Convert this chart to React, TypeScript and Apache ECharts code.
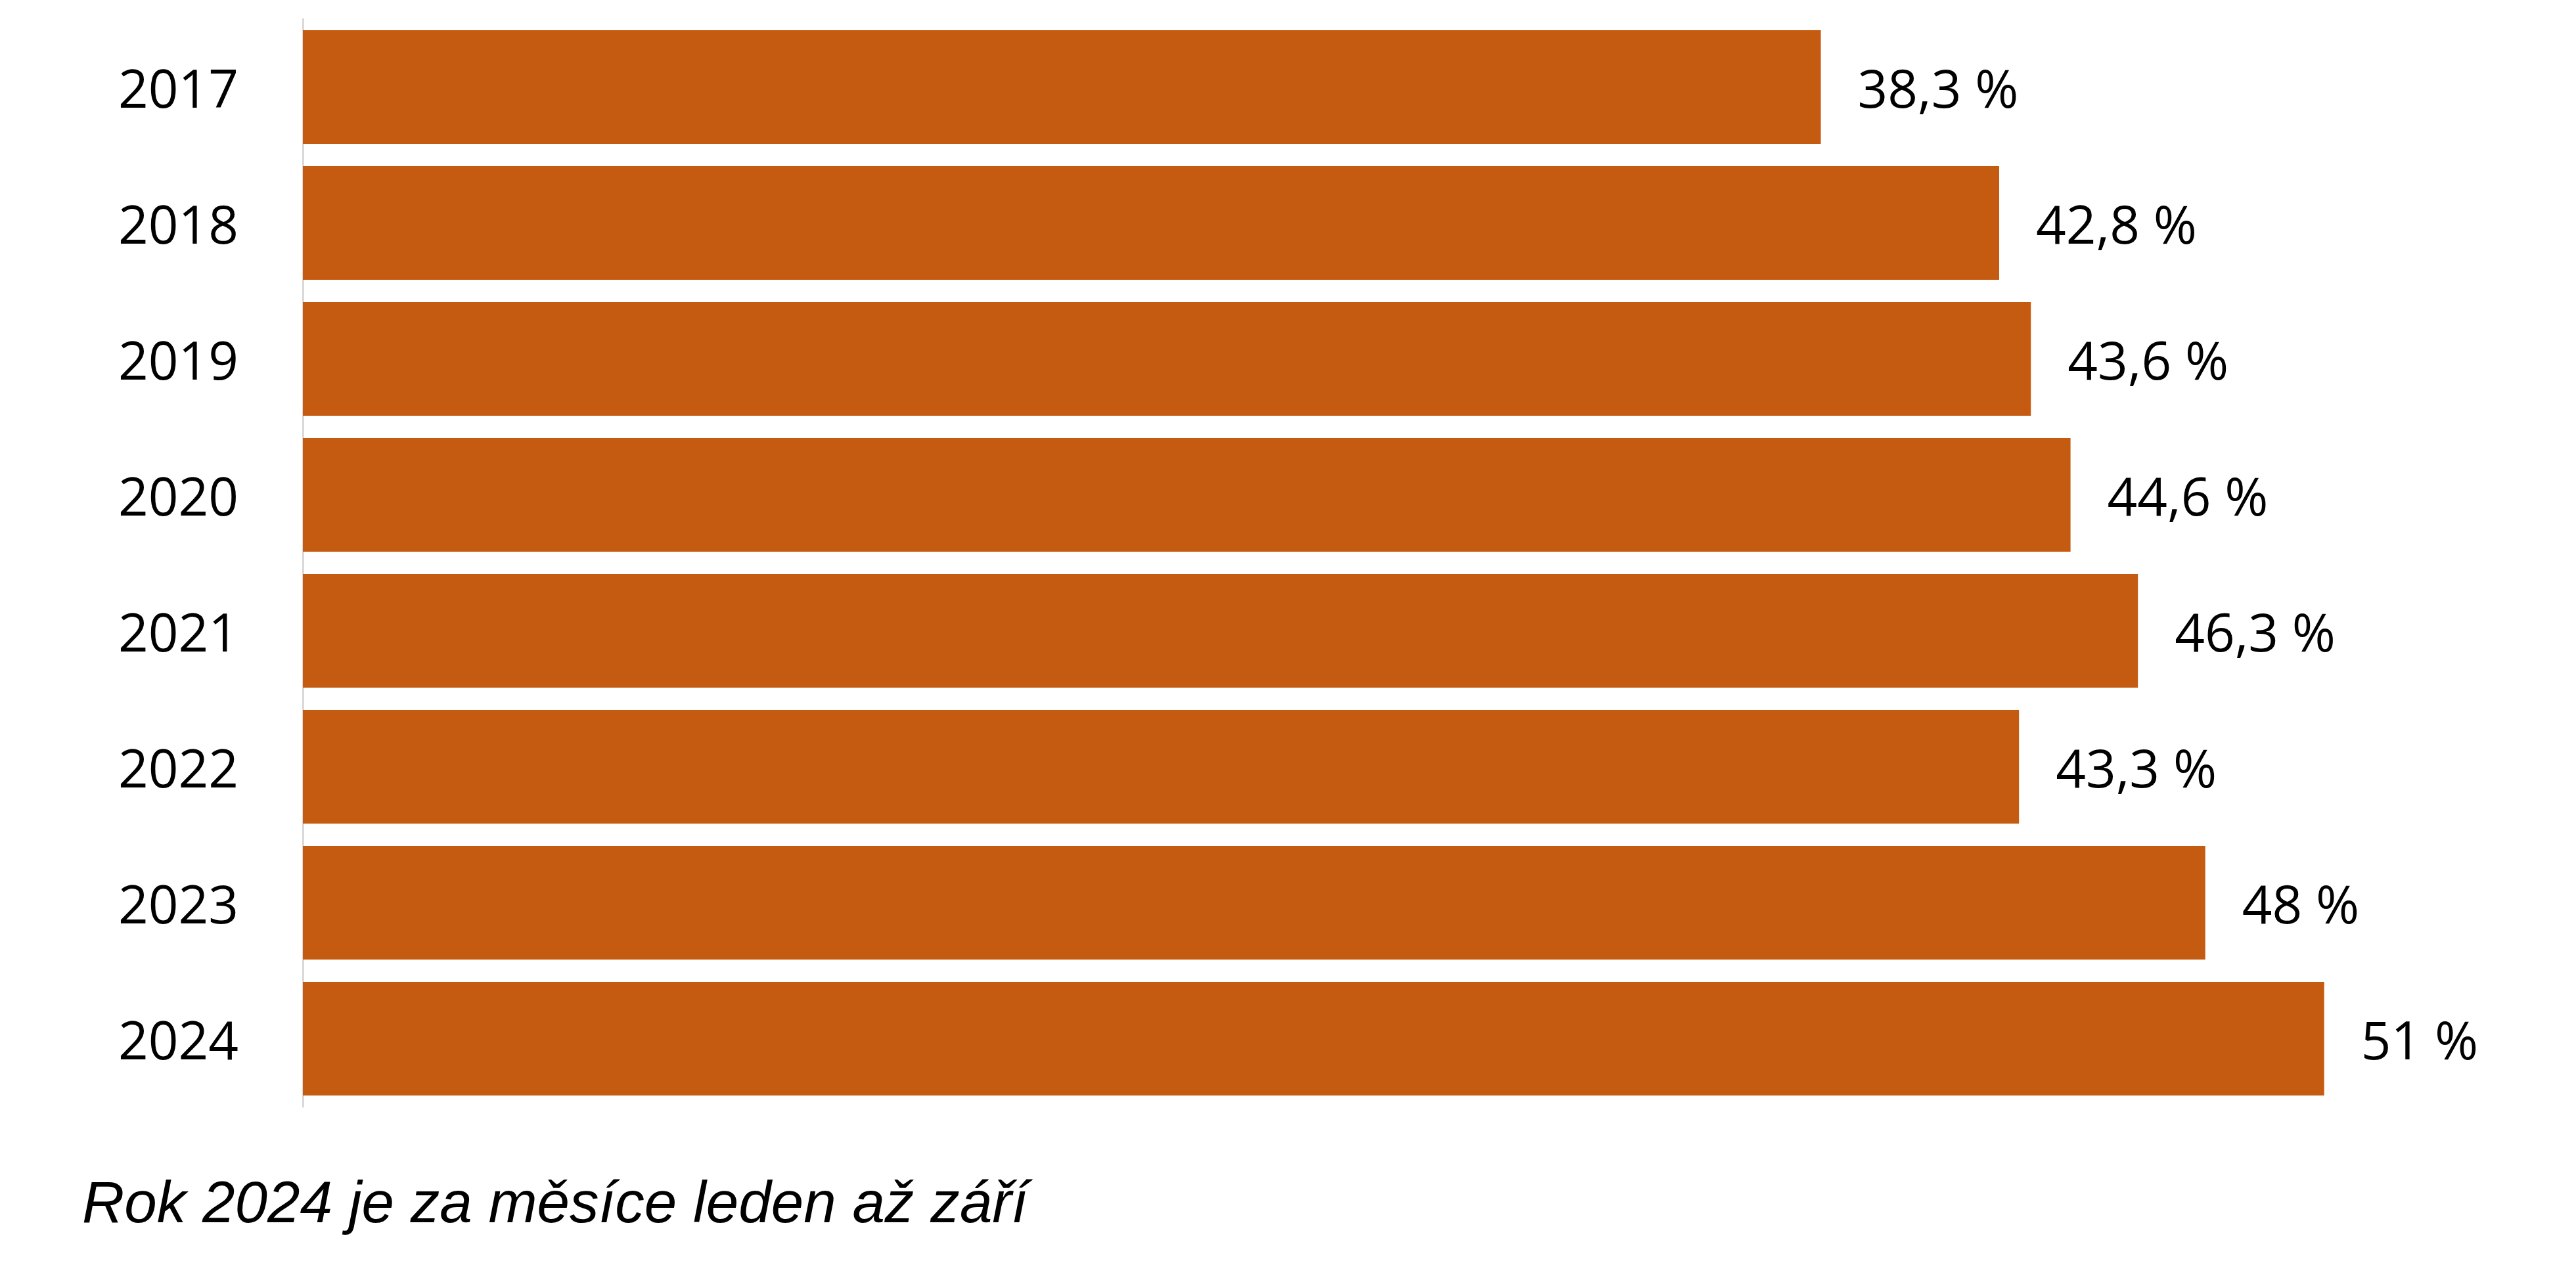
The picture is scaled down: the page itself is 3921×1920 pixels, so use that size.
import React, { useEffect, useRef } from "react";
import * as echarts from "echarts";

const years = ["2017", "2018", "2019", "2020", "2021", "2022", "2023", "2024"];
const shares = [38.3, 42.8, 43.6, 44.6, 46.3, 43.3, 48, 51];
const footnote = "Rok 2024 je za měsíce leden až září";

export default function App() {
  const ref = useRef<HTMLDivElement>(null);
  useEffect(() => {
    if (!ref.current) return;
    const chart = echarts.init(ref.current, undefined, { renderer: "svg" });
    chart.setOption({
      animation: false,
      backgroundColor: "#ffffff",
      grid: { left: 461, top: 29, bottom: 1920 - 1685, right: 142, containLabel: false },
      xAxis: {
        type: "value",
        min: 0,
        max: 55,
        show: false,
      },
      yAxis: {
        type: "category",
        data: years,
        inverse: true,
        axisLine: { show: true, lineStyle: { color: "#d9d9d9", width: 3 } },
        axisTick: { show: false },
        axisLabel: {
          margin: 98,
          color: "#000000",
          fontFamily: "Open Sans",
          fontSize: 80,
        },
      },
      series: [
        {
          type: "bar",
          data: shares,
          barCategoryGap: "16.5%",
          itemStyle: { color: "#C55A11" },
          label: {
            show: true,
            position: "right",
            distance: 56,
            color: "#000000",
            fontFamily: "Open Sans",
            fontSize: 80,
            formatter: (p: any) => String(p.value).replace(".", ",") + " %",
          },
        },
      ],
      graphic: [
        {
          type: "text",
          x: 125,
          y: 1830,
          style: {
            text: footnote,
            fontFamily: "Liberation Sans",
            fontStyle: "italic",
            fontSize: 89,
            fill: "#000000",
            verticalAlign: "middle",
            align: "left",
          },
        },
      ],
    });
    return () => chart.dispose();
  }, []);
  return (
    <div
      ref={ref}
      style={{ position: "fixed", left: 0, top: 0, width: 3921, height: 1920 }}
    />
  );
}
